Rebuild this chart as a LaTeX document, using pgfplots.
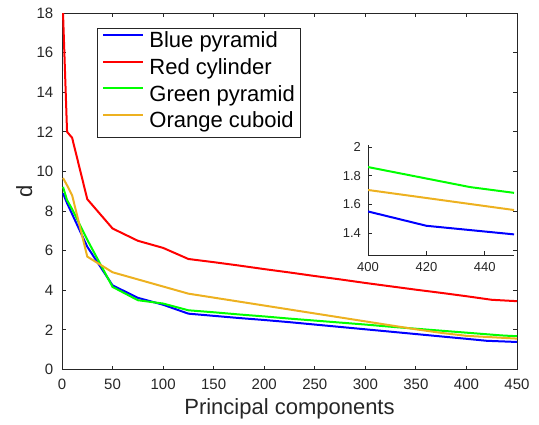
\documentclass[border=0pt]{standalone}
\usepackage{pgfplots}
\pgfplotsset{compat=1.18}
\usepackage{fontspec}
\setmainfont{Liberation Sans}
\definecolor{mblue}{rgb}{0,0,1}
\definecolor{mred}{rgb}{1,0,0}
\definecolor{mgreen}{rgb}{0,1,0}
\definecolor{morange}{rgb}{0.929,0.694,0.125}
\definecolor{axgray}{rgb}{0.15,0.15,0.15}

\pgfplotstableread{
x y
1 8.9
5 8.4
10 7.85
25 6.2
50 4.25
75 3.62
100 3.27
125 2.82
150 2.71
175 2.60
200 2.50
225 2.39
250 2.27
275 2.15
300 2.03
325 1.91
350 1.79
375 1.67
400 1.55
420 1.45
450 1.39
}\blue

\pgfplotstableread{
x y
1 18
5 12.0
10 11.7
25 8.6
50 7.12
75 6.5
100 6.14
125 5.58
150 5.42
175 5.25
200 5.07
225 4.9
250 4.72
275 4.55
300 4.37
325 4.2
350 4.03
375 3.87
400 3.7
425 3.52
450 3.45
}\red

\pgfplotstableread{
x y
1 9.22
5 8.55
10 8.1
25 6.55
50 4.17
75 3.5
100 3.33
125 2.99
150 2.89
175 2.78
200 2.68
225 2.57
250 2.47
275 2.37
300 2.27
325 2.16
350 2.06
375 1.96
400 1.86
420 1.78
435 1.72
450 1.68
}\green

\pgfplotstableread{
x y
1 9.67
5 9.3
10 8.8
25 5.7
50 4.91
75 4.55
100 4.19
125 3.83
150 3.63
175 3.43
200 3.23
225 3.03
250 2.83
275 2.63
300 2.43
325 2.23
350 2.03
375 1.85
400 1.70
425 1.63
450 1.56
}\orange

\begin{document}
\begin{tikzpicture}
\useasboundingbox (0,0) rectangle (269.5pt,212pt);
\begin{axis}[
  at={(31pt,27.25pt)}, anchor=south west,
  scale only axis, width=227.5pt, height=178.25pt,
  xmin=0, xmax=450, ymin=0, ymax=18,
  xtick={0,50,...,450}, ytick={0,2,...,18},
  tick align=inside, major tick length=2pt,
  axis line style={axgray, line width=0.4pt},
  every tick/.style={axgray, line width=0.4pt},
  tick label style={font=\fontsize{7.5}{8.5}\selectfont, text=axgray},
  xticklabel style={yshift=-1.2pt},
  yticklabel style={xshift=-0.8pt},
  /pgf/number format/assume math mode=true,
  xlabel={Principal components}, ylabel={d},
  label style={font=\fontsize{11}{13}\selectfont, text=axgray},
  xlabel style={at={(axis description cs:0.5,-0.1276)}, anchor=base},
  ylabel style={at={(axis description cs:-0.0659,0.5)}, anchor=base, rotate=0},
  legend style={at={(rel axis cs:0.0769,0.958)}, anchor=north west,
    draw=axgray, line width=0.4pt, font=\fontsize{11}{13}\selectfont,
    inner xsep=2.5pt, inner ysep=0.5pt, row sep=0pt,
    nodes={inner sep=0pt, text height=9.2pt, text depth=4.15pt},
    /tikz/every odd column/.append style={column sep=2.5pt}},
  legend cell align=left,
  legend image code/.code={\draw[#1, line width=1pt] (0pt,3.9pt) -- (20pt,3.9pt);},
]
\addplot[mblue, line width=1pt] table {\blue};
\addplot[mred, line width=1pt] table {\red};
\addplot[mgreen, line width=1pt] table {\green};
\addplot[morange, line width=1pt] table {\orange};
\legend{Blue pyramid, Red cylinder, Green pyramid, Orange cuboid}
\end{axis}
\begin{axis}[
  at={(184pt,84.5pt)}, anchor=south west,
  scale only axis, width=73pt, height=55pt,
  xmin=400, xmax=450, ymin=1.246, ymax=2.014,
  xtick={400,420,440}, ytick={1.4,1.6,1.8,2},
  axis x line*=bottom, axis y line*=left,
  tick align=inside, major tick length=2pt,
  axis line style={axgray, line width=0.4pt},
  every tick/.style={axgray, line width=0.4pt},
  tick label style={font=\fontsize{6.5}{7.5}\selectfont, text=axgray},
  /pgf/number format/assume math mode=true,
  yticklabel style={/pgf/number format/.cd, fixed, precision=1},
  clip=true,
]
\addplot[mblue, line width=1pt] table {\blue};
\addplot[mgreen, line width=1pt] table {\green};
\addplot[morange, line width=1pt] table {\orange};
\end{axis}
\end{tikzpicture}
\end{document}
